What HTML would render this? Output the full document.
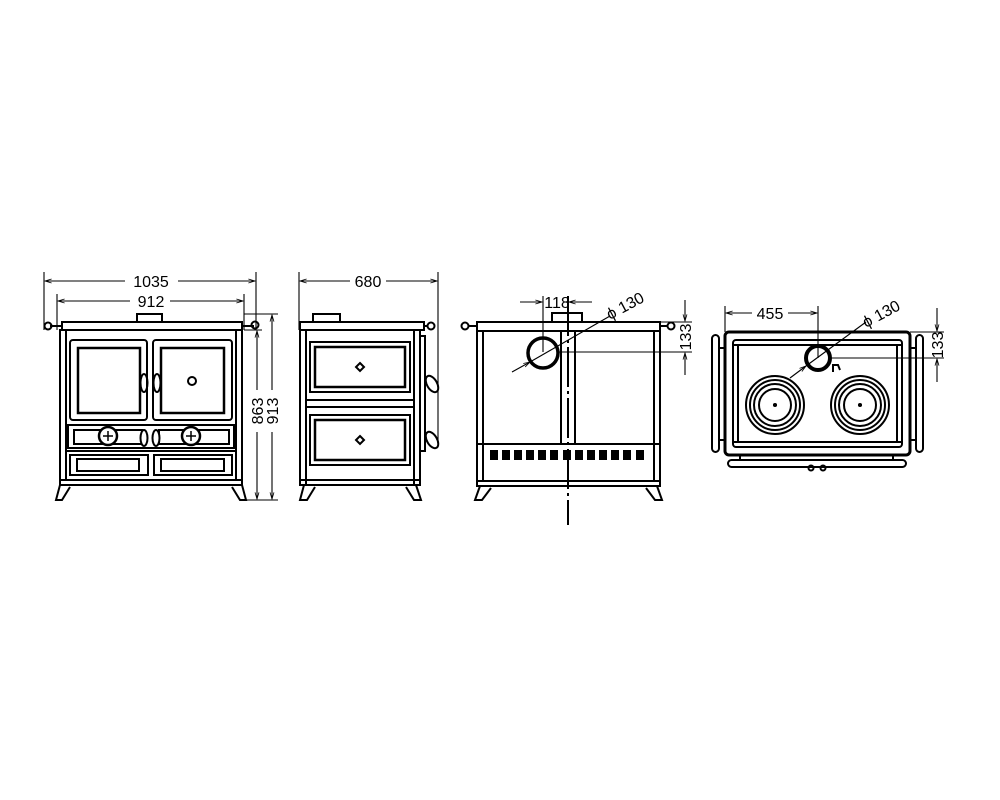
<!DOCTYPE html>
<html><head><meta charset="utf-8"><style>
html,body{margin:0;padding:0;background:#fff}
svg{display:block}
text{font-family:"Liberation Sans",Arial,sans-serif;font-size:16px;fill:#000}
</style></head><body>
<svg width="1000" height="800" viewBox="0 0 1000 800" xmlns="http://www.w3.org/2000/svg">
<defs>
<marker id="a" viewBox="0 0 10 10" refX="10" refY="5" markerWidth="8" markerHeight="6" orient="auto-start-reverse"><path d="M0,2 L10,5 L0,8" fill="none" stroke="#000" stroke-width="1.2"/></marker>
</defs>
<g fill="none" stroke="#000" stroke-width="1.1">
<!-- ========== VIEW 1 FRONT ========== -->
<line x1="44" y1="272" x2="44" y2="330"/><line x1="256" y1="272" x2="256" y2="330"/>
<line x1="45" y1="281" x2="125" y2="281" marker-start="url(#a)"/><line x1="178" y1="281" x2="255" y2="281" marker-end="url(#a)"/>
<line x1="57" y1="294" x2="57" y2="330"/><line x1="244" y1="294" x2="244" y2="330"/>
<line x1="58" y1="301" x2="130" y2="301" marker-start="url(#a)"/><line x1="170" y1="301" x2="243" y2="301" marker-end="url(#a)"/>
<text x="151" y="287" text-anchor="middle" stroke="none">1035</text>
<text x="151" y="307" text-anchor="middle" stroke="none">912</text>
<g stroke-width="2">
<rect x="137" y="314" width="25" height="8"/>
<rect x="62" y="322" width="180" height="8"/>
<line x1="50" y1="326" x2="62" y2="326"/><line x1="242" y1="326" x2="254" y2="326"/>
<circle cx="48" cy="326" r="3.5"/><circle cx="255" cy="325" r="3.5"/>
<rect x="60" y="330" width="182" height="150"/>
<line x1="66" y1="330" x2="66" y2="480"/><line x1="236" y1="330" x2="236" y2="480"/>
<rect x="70" y="340" width="77" height="80" rx="3"/><rect x="78" y="348" width="62" height="65" stroke-width="2.5"/>
<rect x="153" y="340" width="79" height="80" rx="3"/><rect x="161" y="348" width="63" height="65" stroke-width="2.5"/>
<circle cx="192" cy="381" r="4"/>
<ellipse cx="144" cy="383" rx="3.5" ry="9"/><ellipse cx="157" cy="383" rx="3.5" ry="9"/>
<rect x="68" y="425" width="166" height="23"/>
<rect x="74" y="430" width="68" height="14"/><rect x="159" y="430" width="70" height="14"/>
<circle cx="108" cy="436" r="9" fill="#fff" stroke-width="2.5"/><circle cx="191" cy="436" r="9" fill="#fff" stroke-width="2.5"/>
<path d="M103,436 H113 M108,431 V441 M191,431 V441 M186,436 H196" stroke-width="1.5"/>
<ellipse cx="144" cy="438" rx="3.5" ry="8" fill="#fff"/><ellipse cx="156" cy="438" rx="3.5" ry="8" fill="#fff"/>
<line x1="66" y1="451" x2="236" y2="451"/>
<rect x="70" y="455" width="78" height="20"/><rect x="77" y="459" width="62" height="12"/>
<rect x="154" y="455" width="78" height="20"/><rect x="161" y="459" width="63" height="12"/>
<rect x="60" y="480" width="182" height="5"/>
<path d="M60,485 L56,500 L62,500 L70,487"/><path d="M242,485 L246,500 L240,500 L232,487"/>
</g>
<line x1="244" y1="330" x2="262" y2="330"/><line x1="244" y1="314" x2="278" y2="314"/>
<line x1="244" y1="500" x2="278" y2="500"/>
<line x1="257" y1="331" x2="257" y2="390" marker-start="url(#a)"/><line x1="257" y1="432" x2="257" y2="499" marker-end="url(#a)"/>
<line x1="272" y1="315" x2="272" y2="390" marker-start="url(#a)"/><line x1="272" y1="432" x2="272" y2="499" marker-end="url(#a)"/>
<text transform="translate(263,411) rotate(-90)" text-anchor="middle" stroke="none">863</text>
<text transform="translate(278,411) rotate(-90)" text-anchor="middle" stroke="none">913</text>

<!-- ========== VIEW 2 SIDE ========== -->
<line x1="299" y1="272" x2="299" y2="330"/><line x1="438" y1="272" x2="438" y2="440"/>
<line x1="300" y1="281" x2="350" y2="281" marker-start="url(#a)"/><line x1="386" y1="281" x2="437" y2="281" marker-end="url(#a)"/>
<text x="368" y="287" text-anchor="middle" stroke="none">680</text>
<g stroke-width="2">
<rect x="313" y="314" width="27" height="8"/>
<rect x="300" y="322" width="124" height="8"/>
<circle cx="431" cy="326" r="3.5"/><line x1="424" y1="326" x2="428" y2="326"/>
<rect x="300" y="330" width="120" height="155"/>
<line x1="306" y1="330" x2="306" y2="485"/><line x1="414" y1="330" x2="414" y2="485"/>
<rect x="310" y="342" width="100" height="50"/><rect x="315" y="347" width="90" height="40" stroke-width="2.5"/>
<line x1="306" y1="400" x2="414" y2="400"/><line x1="306" y1="407" x2="414" y2="407"/>
<rect x="310" y="415" width="100" height="50"/><rect x="315" y="420" width="90" height="40" stroke-width="2.5"/>
<path d="M360,363 L364,367 L360,371 L356,367Z"/><path d="M360,436 L364,440 L360,444 L356,440Z"/>
<rect x="420" y="336" width="5" height="115"/>
<ellipse cx="432" cy="384" rx="5" ry="9" transform="rotate(-30 432 384)"/>
<ellipse cx="432" cy="440" rx="5" ry="9" transform="rotate(-30 432 440)"/>
<rect x="300" y="480" width="120" height="5"/>
<path d="M304,485 L300,500 L307,500 L315,487"/><path d="M416,485 L421,500 L414,500 L406,487"/>
</g>

<!-- ========== VIEW 3 BACK ========== -->
<g stroke-width="2">
<rect x="552" y="313" width="30" height="9"/>
<rect x="477" y="322" width="183" height="9"/>
<line x1="468" y1="326" x2="477" y2="326"/><line x1="660" y1="326" x2="668" y2="326"/>
<circle cx="465" cy="326" r="3.5"/><circle cx="671" cy="326" r="3.5"/>
<rect x="477" y="331" width="183" height="150"/>
<line x1="483" y1="331" x2="483" y2="481"/><line x1="654" y1="331" x2="654" y2="481"/>
<line x1="561" y1="331" x2="561" y2="445"/><line x1="575" y1="331" x2="575" y2="445"/>
<line x1="477" y1="444" x2="660" y2="444"/>
<circle cx="543" cy="353" r="15" stroke-width="3.5"/>
<rect x="477" y="481" width="183" height="5"/>
<path d="M480,486 L475,500 L482,500 L491,488"/><path d="M657,486 L662,500 L655,500 L646,488"/>
</g>
<g fill="#000" stroke="none">
<rect x="490" y="450" width="8" height="10"/><rect x="502" y="450" width="8" height="10"/><rect x="514" y="450" width="8" height="10"/><rect x="526" y="450" width="8" height="10"/><rect x="538" y="450" width="8" height="10"/><rect x="550" y="450" width="8" height="10"/><rect x="563" y="450" width="8" height="10"/><rect x="575" y="450" width="8" height="10"/><rect x="587" y="450" width="8" height="10"/><rect x="599" y="450" width="8" height="10"/><rect x="611" y="450" width="8" height="10"/><rect x="623" y="450" width="8" height="10"/><rect x="636" y="450" width="8" height="10"/>
</g>
<line x1="568" y1="296" x2="568" y2="525" stroke-width="2" stroke-dasharray="40,4,3,4"/>
<line x1="543" y1="296" x2="543" y2="352"/>
<line x1="520" y1="302" x2="542" y2="302" marker-end="url(#a)"/>
<line x1="592" y1="302" x2="569" y2="302" marker-end="url(#a)"/>
<text x="557" y="308" text-anchor="middle" stroke="none">118</text>
<line x1="512" y1="372" x2="530" y2="362" marker-end="url(#a)"/>
<line x1="530" y1="362" x2="610" y2="316"/>
<text transform="translate(610,320) rotate(-28)" stroke="none">ϕ 130</text>
<line x1="575" y1="322" x2="692" y2="322"/><line x1="558" y1="352" x2="692" y2="352"/>
<line x1="685" y1="300" x2="685" y2="321" marker-end="url(#a)"/><line x1="685" y1="375" x2="685" y2="353" marker-end="url(#a)"/>
<text transform="translate(691,337) rotate(-90)" text-anchor="middle" stroke="none">133</text>

<!-- ========== VIEW 4 TOP ========== -->
<g stroke-width="2">
<rect x="725" y="332" width="185" height="123" rx="4" stroke-width="3"/>
<rect x="733" y="340" width="169" height="107" rx="3"/>
<line x1="733" y1="345" x2="902" y2="345"/><line x1="733" y1="442" x2="902" y2="442"/>
<rect x="733" y="345" width="5" height="97"/><rect x="897" y="345" width="5" height="97"/>
<rect x="712" y="335" width="7" height="117" rx="3.5"/><rect x="916" y="335" width="7" height="117" rx="3.5"/>
<line x1="719" y1="348" x2="725" y2="348"/><line x1="719" y1="440" x2="725" y2="440"/>
<line x1="910" y1="348" x2="916" y2="348"/><line x1="910" y1="440" x2="916" y2="440"/>
<rect x="728" y="460" width="178" height="7" rx="3.5"/>
<line x1="740" y1="455" x2="740" y2="460"/><line x1="893" y1="455" x2="893" y2="460"/>
<circle cx="811" cy="468" r="2.5"/><circle cx="823" cy="468" r="2.5"/>
<circle cx="775" cy="405" r="29"/><circle cx="775" cy="405" r="25"/><circle cx="775" cy="405" r="21"/><circle cx="775" cy="405" r="16"/>
<circle cx="860" cy="405" r="29"/><circle cx="860" cy="405" r="25"/><circle cx="860" cy="405" r="21"/><circle cx="860" cy="405" r="16"/>
<circle cx="818" cy="358" r="12" stroke-width="4"/>
<path d="M833,372 L833,365 L838,365 L840,370"/>
</g>
<circle cx="775" cy="405" r="1.5" fill="#000"/><circle cx="860" cy="405" r="1.5" fill="#000"/>
<line x1="725" y1="306" x2="725" y2="332"/><line x1="818" y1="306" x2="818" y2="358"/>
<line x1="726" y1="313" x2="752" y2="313" marker-start="url(#a)"/><line x1="788" y1="313" x2="817" y2="313" marker-end="url(#a)"/>
<text x="770" y="319" text-anchor="middle" stroke="none">455</text>
<line x1="790" y1="378" x2="806" y2="366" marker-end="url(#a)"/>
<line x1="806" y1="366" x2="866" y2="322"/>
<text transform="translate(866,328) rotate(-28)" stroke="none">ϕ 130</text>
<line x1="910" y1="332" x2="944" y2="332"/><line x1="830" y1="358" x2="944" y2="358"/>
<line x1="937" y1="308" x2="937" y2="331" marker-end="url(#a)"/><line x1="937" y1="382" x2="937" y2="359" marker-end="url(#a)"/>
<text transform="translate(943,345) rotate(-90)" text-anchor="middle" stroke="none">133</text>
</g>
</svg>
</body></html>
